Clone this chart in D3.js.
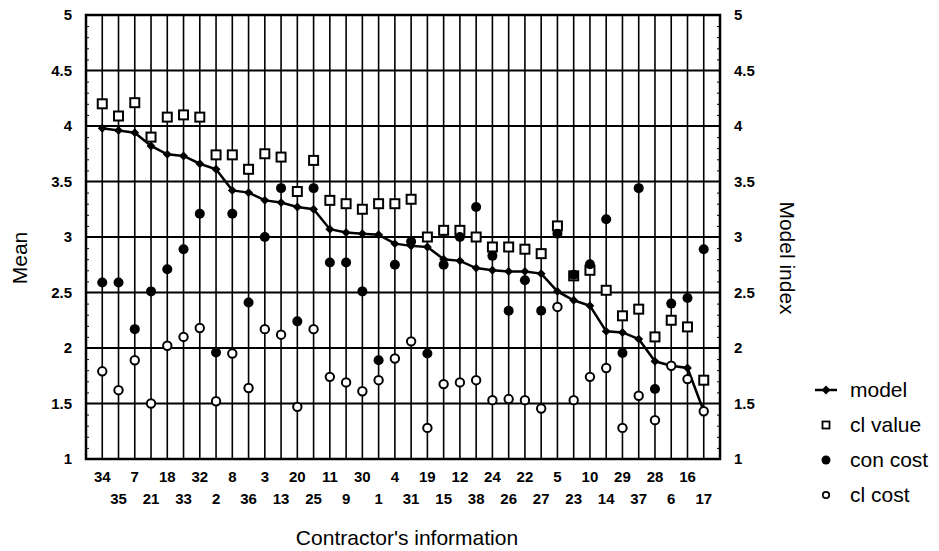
<!DOCTYPE html>
<html>
<head>
<meta charset="utf-8">
<script src="https://cdn.jsdelivr.net/npm/d3@7"></script>
<style>
  body { margin: 0; background: #fff; }
  svg { display: block; font-family: "Liberation Sans", Arial, sans-serif; }
</style>
</head>
<body>
<div id="chart"></div>
<script>
// contractors in the order they appear along the x axis
const contractors = [34, 35, 7, 21, 18, 33, 32, 2, 8, 36, 3, 13, 20, 25, 11, 9, 30, 1, 4, 31,
                     19, 15, 12, 38, 24, 26, 22, 27, 5, 23, 10, 14, 29, 37, 28, 6, 16, 17];

const model = [3.98, 3.96, 3.94, 3.82, 3.745, 3.73, 3.66, 3.61, 3.42, 3.40, 3.33, 3.31, 3.27, 3.25,
               3.07, 3.04, 3.03, 3.02, 2.94, 2.92, 2.91, 2.80, 2.785, 2.72, 2.70, 2.69, 2.69, 2.67,
               2.51, 2.43, 2.38, 2.15, 2.14, 2.08, 1.88, 1.84, 1.82, 1.43];

const clValue = [4.20, 4.09, 4.21, 3.90, 4.08, 4.10, 4.08, 3.74, 3.74, 3.61, 3.75, 3.72, 3.41, 3.69,
                 3.33, 3.30, 3.25, 3.30, 3.30, 3.34, 3.00, 3.06, 3.06, 3.00, 2.91, 2.91, 2.89, 2.85,
                 3.10, 2.65, 2.70, 2.52, 2.29, 2.35, 2.10, 2.25, 2.19, 1.71];

const conCost = [2.59, 2.59, 2.17, 2.51, 2.71, 2.89, 3.21, 1.96, 3.21, 2.41, 3.00, 3.44, 2.24, 3.44,
                 2.77, 2.77, 2.51, 1.89, 2.75, 2.96, 1.95, 2.75, 3.00, 3.27, 2.83, 2.335, 2.61, 2.335,
                 3.03, 2.66, 2.755, 3.16, 1.955, 3.44, 1.63, 2.40, 2.45, 2.89];

const clCost = [1.79, 1.62, 1.89, 1.50, 2.02, 2.10, 2.18, 1.52, 1.95, 1.64, 2.17, 2.12, 1.47, 2.17,
                1.74, 1.69, 1.61, 1.71, 1.905, 2.06, 1.28, 1.675, 1.69, 1.71, 1.53, 1.54, 1.53, 1.455,
                2.37, 1.53, 1.74, 1.82, 1.28, 1.57, 1.35, 1.84, 1.72, 1.43];

const yTicks = [1, 1.5, 2, 2.5, 3, 3.5, 4, 4.5, 5];
const legendItems = ["model", "cl value", "con cost", "cl cost"];

const W = 939, H = 551;
const plot = { left: 86, right: 720, top: 15, bottom: 459 };

const svg = d3.select("#chart").append("svg")
    .attr("width", W)
    .attr("height", H);

const x = d3.scaleLinear().domain([0, contractors.length + 1]).range([plot.left, plot.right]);
const y = d3.scaleLinear().domain([1, 5]).range([plot.bottom, plot.top]);

const rows = contractors.map((c, i) => ({
    i: i + 1, c, model: model[i], clValue: clValue[i], conCost: conCost[i], clCost: clCost[i]
}));

// vertical line at every contractor
svg.append("g")
    .selectAll("line")
    .data(rows)
    .join("line")
    .attr("x1", d => x(d.i)).attr("x2", d => x(d.i))
    .attr("y1", plot.top).attr("y2", plot.bottom)
    .attr("stroke", "#000")
    .attr("stroke-width", 1.6);

// horizontal grid
svg.append("g")
    .selectAll("line")
    .data(yTicks)
    .join("line")
    .attr("x1", plot.left).attr("x2", plot.right)
    .attr("y1", d => y(d)).attr("y2", d => y(d))
    .attr("stroke", "#000")
    .attr("stroke-width", 2);

// minor ticks on both sides, pointing inwards
const minor = d3.range(10, 51).map(v => v / 10).filter(v => Math.round(v * 10) % 5 !== 0);
svg.append("g")
    .call(d3.axisRight(y).tickValues(minor).tickSize(3).tickFormat(""))
    .attr("transform", `translate(${plot.left},0)`)
    .call(g => g.select(".domain").remove());
svg.append("g")
    .call(d3.axisLeft(y).tickValues(minor).tickSize(3).tickFormat(""))
    .attr("transform", `translate(${plot.right},0)`)
    .call(g => g.select(".domain").remove());

// frame
svg.append("rect")
    .attr("x", plot.left).attr("y", plot.top)
    .attr("width", plot.right - plot.left).attr("height", plot.bottom - plot.top)
    .attr("fill", "none")
    .attr("stroke", "#000")
    .attr("stroke-width", 2.5);

// y axes labels
const tickFmt = d => d3.format("")(d);
svg.append("g")
    .attr("transform", `translate(${plot.left},0)`)
    .call(d3.axisLeft(y).tickValues(yTicks).tickSize(0).tickPadding(14).tickFormat(tickFmt))
    .call(g => g.select(".domain").remove())
    .call(g => g.selectAll("text").attr("font-size", 15).attr("font-weight", "bold")
        .attr("font-family", "Liberation Sans, Arial, sans-serif").attr("fill", "#000"));

svg.append("g")
    .attr("transform", `translate(${plot.right},0)`)
    .call(d3.axisRight(y).tickValues(yTicks).tickSize(0).tickPadding(14).tickFormat(tickFmt))
    .call(g => g.select(".domain").remove())
    .call(g => g.selectAll("text").attr("font-size", 15).attr("font-weight", "bold")
        .attr("font-family", "Liberation Sans, Arial, sans-serif").attr("fill", "#000"));

// x labels, alternating rows
svg.append("g")
    .selectAll("text")
    .data(rows)
    .join("text")
    .attr("x", d => x(d.i))
    .attr("y", d => d.i % 2 === 1 ? 482 : 504)
    .attr("text-anchor", "middle")
    .attr("font-size", 15)
    .attr("font-weight", "bold")
    .text(d => d.c);

// model line
const line = d3.line().x(d => x(d.i)).y(d => y(d.model));
svg.append("path")
    .datum(rows)
    .attr("d", line)
    .attr("fill", "none")
    .attr("stroke", "#000")
    .attr("stroke-width", 2.5);

const diamond = d3.symbol().type(d3.symbolDiamond2).size(50);
svg.append("g")
    .selectAll("path")
    .data(rows)
    .join("path")
    .attr("transform", d => `translate(${x(d.i)},${y(d.model)})`)
    .attr("d", diamond)
    .attr("fill", "#000");

// cl value squares
svg.append("g")
    .selectAll("rect")
    .data(rows)
    .join("rect")
    .attr("x", d => x(d.i) - 4.5)
    .attr("y", d => y(d.clValue) - 4.5)
    .attr("width", 9).attr("height", 9)
    .attr("fill", "#fff")
    .attr("stroke", "#000")
    .attr("stroke-width", 2);

// con cost filled circles
svg.append("g")
    .selectAll("circle")
    .data(rows)
    .join("circle")
    .attr("cx", d => x(d.i))
    .attr("cy", d => y(d.conCost))
    .attr("r", 5)
    .attr("fill", "#000");

// cl cost open circles
svg.append("g")
    .selectAll("circle")
    .data(rows)
    .join("circle")
    .attr("cx", d => x(d.i))
    .attr("cy", d => y(d.clCost))
    .attr("r", 4.2)
    .attr("fill", "#fff")
    .attr("stroke", "#000")
    .attr("stroke-width", 2);

// axis titles
svg.append("text")
    .attr("transform", "translate(27,258) rotate(-90)")
    .attr("text-anchor", "middle")
    .attr("font-size", 21)
    .text("Mean");

svg.append("text")
    .attr("transform", "translate(780,258) rotate(90)")
    .attr("text-anchor", "middle")
    .attr("font-size", 21)
    .text("Model index");

svg.append("text")
    .attr("x", (plot.left + plot.right) / 2 + 4)
    .attr("y", 545)
    .attr("text-anchor", "middle")
    .attr("font-size", 21)
    .text("Contractor's information");

// legend
const legend = svg.append("g").attr("transform", "translate(826,390)");
const item = legend.selectAll("g")
    .data(legendItems)
    .join("g")
    .attr("transform", (d, i) => `translate(0,${i * 35})`);

item.filter(d => d === "model").call(g => {
    g.append("line").attr("x1", -11).attr("x2", 11).attr("stroke", "#000").attr("stroke-width", 2.5);
    g.append("path").attr("d", diamond).attr("fill", "#000");
});
item.filter(d => d === "cl value").append("rect")
    .attr("x", -3.5).attr("y", -3.5).attr("width", 7).attr("height", 7)
    .attr("fill", "#fff").attr("stroke", "#000").attr("stroke-width", 1.8);
item.filter(d => d === "con cost").append("circle")
    .attr("r", 4.5).attr("fill", "#000");
item.filter(d => d === "cl cost").append("circle")
    .attr("r", 3.2).attr("fill", "#fff").attr("stroke", "#000").attr("stroke-width", 1.8);

item.append("text")
    .attr("x", 24)
    .attr("dy", "0.35em")
    .attr("font-size", 21)
    .text(d => d);
</script>
</body>
</html>
